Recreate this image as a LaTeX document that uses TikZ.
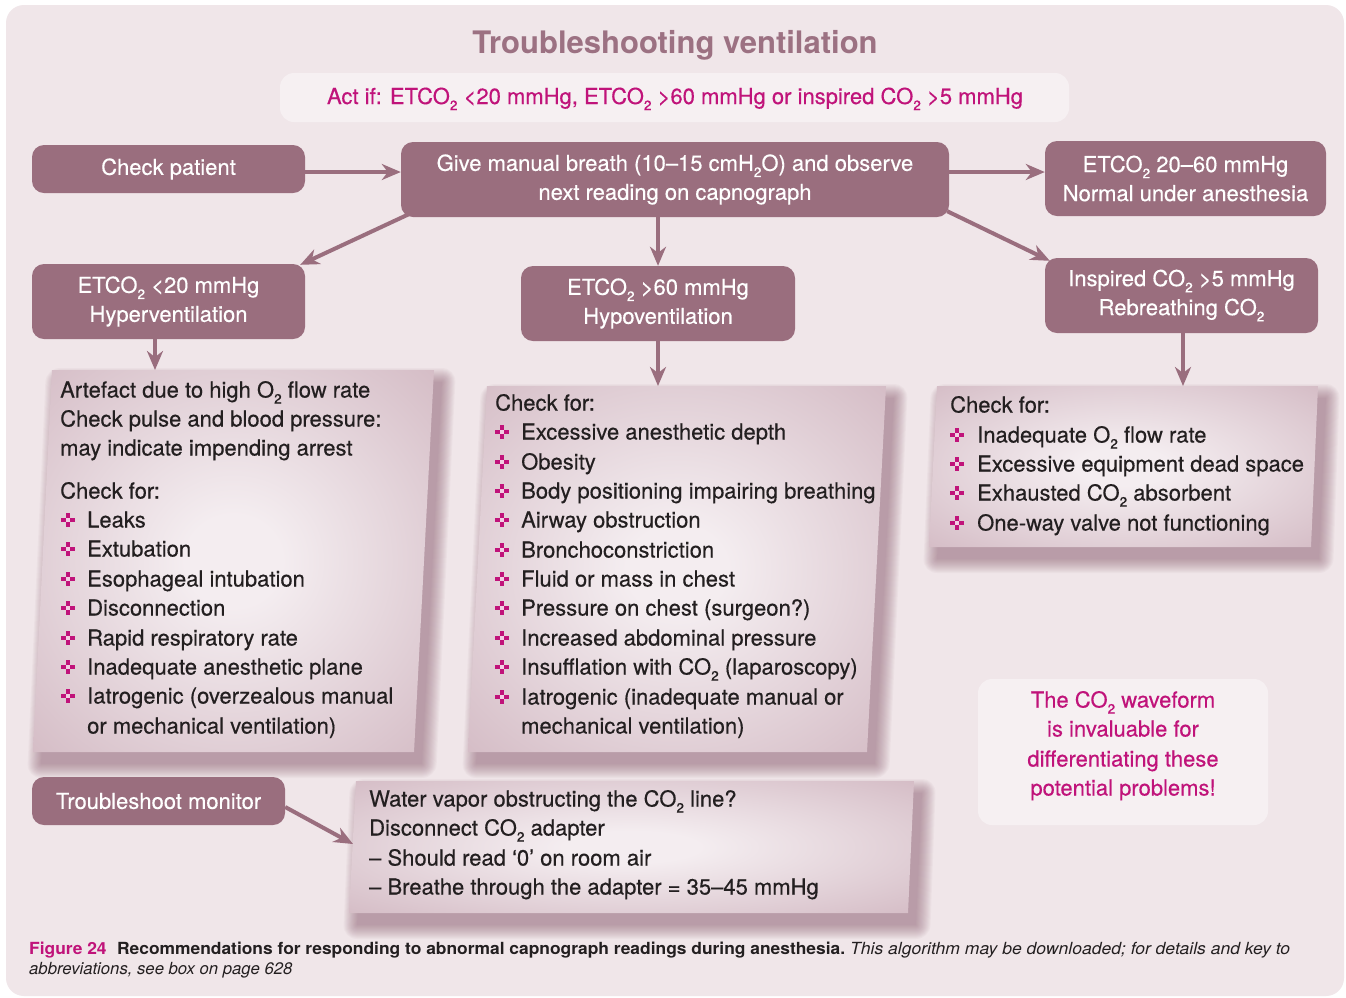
\documentclass[tikz,border=0pt]{standalone}
\usepackage{fontspec}
\setmainfont{TeX Gyre Heros}[UprightFeatures={FakeBold=0.35}]
\usetikzlibrary{arrows.meta,calc}
\definecolor{bg}{HTML}{F0E6E9}
\definecolor{dk}{HTML}{9A6E7E}
\definecolor{mag}{HTML}{C0137A}
\definecolor{pale}{HTML}{F6F0F2}
\definecolor{ink}{HTML}{231F20}
\definecolor{ttl}{HTML}{9C7182}
\definecolor{lbedge}{HTML}{CCAFBA}
\definecolor{lbmid}{HTML}{F4EDF0}
\definecolor{shd}{HTML}{8A5A6E}
\pgfdeclareradialshading{lbshade}{\pgfpoint{0bp}{0bp}}{color(0bp)=(lbmid); color(6bp)=(lbmid); color(44bp)=(lbedge); color(50bp)=(lbedge)}
\newcommand{\lo}[1]{\raisebox{-0.28em}{\scalebox{0.62}{#1}}}
\newcommand{\fs}{\fontsize{22}{29}\selectfont}
\newcommand{\fitto}[2]{\setbox0=\hbox{#2}\pgfmathsetmacro{\fitsc}{#1/\the\wd0}\scalebox{\fitsc}[1]{\box0}}
\newcommand{\boxshadow}[8]{%
  \foreach \k in {0,...,14}{%
    \fill[shd, opacity=0.045, rounded corners=\k pt]
      ({#1+8-\k},{#2+12-\k}) -- ({#3+8+\k},{#4+12-\k}) --
      ({#5+8+\k},{#6+12+\k}) -- ({#7+8-\k},{#8+12+\k}) -- cycle;}%
  \shade[shading=lbshade] (#1,#2) -- (#3,#4) -- (#5,#6) -- (#7,#8) -- cycle;}
\tikzset{
  dkbox/.style={fill=dk, rounded corners=12pt, text=white, align=center, inner sep=0pt, font=\fs},
  txt/.style={text=ink, inner sep=0pt, font=\fs, anchor=base west},
  arr/.style={draw=dk, line width=4pt, -{Stealth[length=19pt,width=16pt,inset=6pt]}},
  bul/.pic={
    \fill[mag] (-7,-2.4) rectangle (7,2.4);
    \fill[mag] (-2.4,-7) rectangle (2.4,7);
    \fill[mag!20!white] (-1.6,-1.6) rectangle (1.6,1.6);
  }
}
\begin{document}
\begin{tikzpicture}[x=1pt,y=-1pt]
\useasboundingbox (0,0) rectangle (1346,997);
\fill[white] (0,0) rectangle (1346,997);
\fill[bg, rounded corners=18pt] (6,5) rectangle (1344,996);

% title and act box
\node[font=\bfseries\fontsize{31}{36}\selectfont, text=ttl, anchor=base, inner sep=0pt] (title) at (675,53) {Troubleshooting ventilation};
\node[fill=pale, rounded corners=14pt, minimum width=789pt, minimum height=49pt, inner sep=0pt] (actbox) at (674.5,97.5) {};
\node[text=mag, font=\fs, anchor=base, inner sep=0pt] (acttxt) at (675,104) {Act if: ETCO\lo{2} <20 mmHg, ETCO\lo{2} >60 mmHg or inspired CO\lo{2} >5 mmHg};

% light boxes with shadows
\boxshadow{52}{370}{434}{370}{414}{752}{33}{752}
\boxshadow{487}{386}{886}{386}{867}{752}{468}{752}
\boxshadow{937}{386}{1318}{386}{1311}{547}{929}{547}
\boxshadow{356}{781}{914}{781}{908}{913}{349}{913}
\coordinate (ltop) at (155,370);
\coordinate (mtop) at (658,386);
\coordinate (rtop) at (1183,386);
\coordinate (btip) at (353,844);

% dark boxes
\node[dkbox, minimum width=273pt, minimum height=48pt] (chk) at (168.5,169) {Check patient};
\node[dkbox, minimum width=548pt, minimum height=75pt] (give) at (675,179.5) {Give manual breath (10–15 cmH\lo{2}O) and observe\\next reading on capnograph};
\node[dkbox, minimum width=281pt, minimum height=75pt] (norm) at (1185.5,178.5) {ETCO\lo{2} 20–60 mmHg\\Normal under anesthesia};
\node[dkbox, minimum width=273pt, minimum height=75pt] (hyper) at (168.5,301.5) {ETCO\lo{2} <20 mmHg\\Hyperventilation};
\node[dkbox, minimum width=274pt, minimum height=75pt] (hypo) at (658,303.5) {ETCO\lo{2} >60 mmHg\\Hypoventilation};
\node[dkbox, minimum width=273pt, minimum height=75pt] (rebr) at (1181.5,295.5) {Inspired CO\lo{2} >5 mmHg\\Rebreathing CO\lo{2}};
\node[dkbox, minimum width=253pt, minimum height=48pt] (mon) at (158.5,801) {Troubleshoot monitor};

% pale note box
\node[fill=pale, rounded corners=14pt, minimum width=290pt, minimum height=146pt, inner sep=0pt] (notebox) at (1123,752) {};
\foreach \yy/\tx [count=\i] in {700/{The CO\lo{2} waveform}, 729/{is invaluable for}, 759/{differentiating these}, 788/{potential problems!}}
  \node[text=mag, font=\fs, anchor=base, inner sep=0pt] (note\i) at (1123,\yy+7.5) {\tx};

% arrows
\draw[arr] ([yshift=-3pt]chk.east) -- ([yshift=-3pt]chk.east -| give.west);
\draw[arr] ([yshift=7.5pt]give.east) -- ([yshift=7.5pt]give.east -| norm.west);
\draw[arr] ($(give.south west)+(8,-3)$) -- ($(hyper.north east)+(-5,1)$);
\draw[arr] (hypo.north |- give.south) -- (hypo.north);
\draw[arr] ($(give.south east)+(-2,-6)$) -- ($(rebr.north west)+(5,3)$);
\draw[arr] (ltop |- hyper.south) -- (ltop);
\draw[arr] (mtop |- hypo.south) -- (mtop);
\draw[arr] (rtop |- rebr.south) -- (rtop);
\draw[arr] ($(mon.east)+(0,6)$) -- (btip);

% left box text
\foreach \yy/\tx [count=\i] in {390/{Artefact due to high O\lo{2} flow rate}, 419/{Check pulse and blood pressure:}, 448/{may indicate impending arrest}, 491/{Check for:}}
  \node[txt] (la\i) at (60,\yy+7.5) {\tx};
\foreach \yy/\tx [count=\i] in {520/Leaks, 549/Extubation, 579/{Esophageal intubation}, 608/Disconnection, 638/{Rapid respiratory rate}, 667/{Inadequate anesthetic plane}, 696/{Iatrogenic (overzealous manual}}{
  \pic at (68,\yy) {bul};
  \node[txt] (lb\i) at (87,\yy+7.5) {\tx};}
\node[txt] (lc1) at (87,733.5) {or mechanical ventilation)};

% middle box text
\node[txt] (ma1) at (495,410.5) {Check for:};
\foreach \yy/\tx [count=\i] in {432/{Excessive anesthetic depth}, 462/Obesity, 491/{Body positioning impairing breathing}, 520/{Airway obstruction}, 550/Bronchoconstriction, 579/{Fluid or mass in chest}, 608/{Pressure on chest (surgeon?)}, 638/{Increased abdominal pressure}, 667/{Insufflation with CO\lo{2} (laparoscopy)}, 697/{Iatrogenic (inadequate manual or}}{
  \pic at (502,\yy) {bul};
  \node[txt] (mb\i) at (521,\yy+7.5) {\tx};}
\node[txt] (mc1) at (521,733.5) {mechanical ventilation)};

% right box text
\node[txt] (ra1) at (950,412.5) {Check for:};
\foreach \yy/\tx [count=\i] in {435/{Inadequate O\lo{2} flow rate}, 464/{Excessive equipment dead space}, 493/{Exhausted CO\lo{2} absorbent}, 523/{One-way valve not functioning}}{
  \pic at (957,\yy) {bul};
  \node[txt] (rb\i) at (977,\yy+7.5) {\tx};}

% bottom box text
\foreach \yy/\tx [count=\i] in {799/{Water vapor obstructing the CO\lo{2} line?}, 828/{Disconnect CO\lo{2} adapter}, 858/{– Should read ‘0’ on room air}, 887/{– Breathe through the adapter = 35–45 mmHg}}
  \node[txt] (bb\i) at (369,\yy+7.5) {\tx};

% caption
\node[anchor=base west, inner sep=0pt, font=\fontsize{16.7}{20}\selectfont, text=ink] (cap1) at (29,954)
  {\fitto{816}{\bfseries\textcolor{mag}{Figure 24}\hspace{0.6em}Recommendations for responding to abnormal capnograph readings during anesthesia.}\hspace{0.3em}\fitto{440}{\itshape This algorithm may be downloaded; for details and key to}};
\node[anchor=base west, inner sep=0pt, font=\fontsize{16.7}{20}\selectfont\itshape, text=ink] (cap2) at (29,974) {abbreviations, see box on page 628};
\end{tikzpicture}
\end{document}
